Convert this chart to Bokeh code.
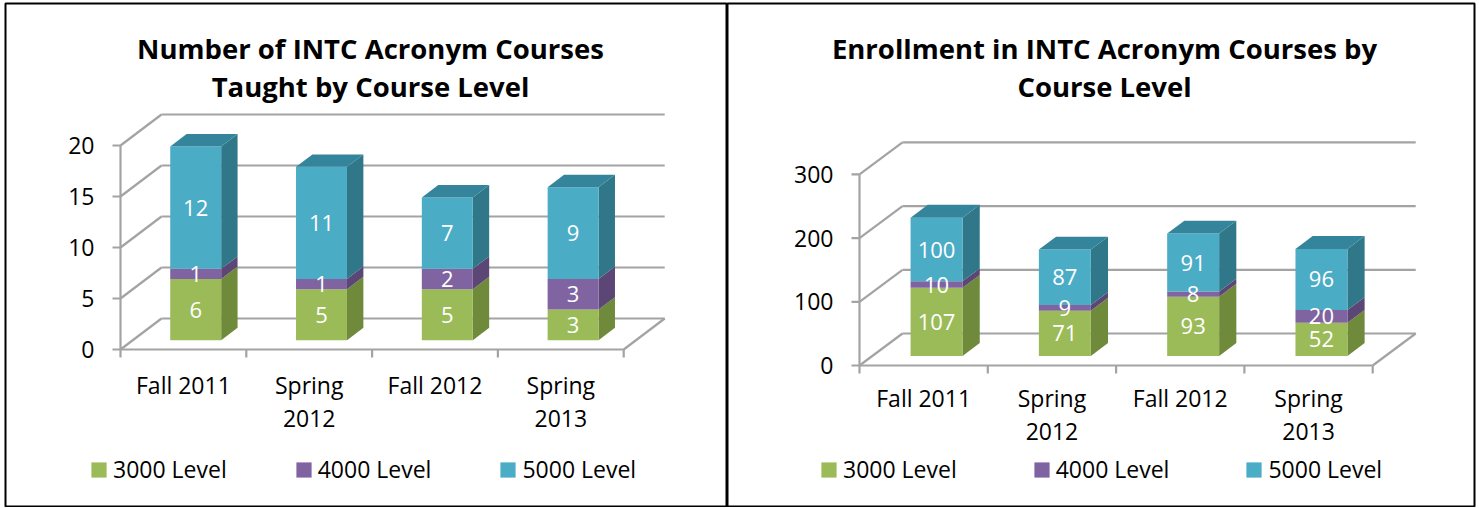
from bokeh.plotting import figure
from bokeh.models import Range1d, Legend, LegendItem
from bokeh.layouts import row
from bokeh.embed import file_html
from bokeh.resources import INLINE
from bokeh.core.properties import value

# ---------------- data ----------------
terms = ["Fall 2011", "Spring 2012", "Fall 2012", "Spring 2013"]
term_tick_labels = ["Fall 2011", "Spring\n2012", "Fall 2012", "Spring\n2013"]
series_names = ["3000 Level", "4000 Level", "5000 Level"]

courses_3000 = [6, 5, 5, 3]
courses_4000 = [1, 1, 2, 3]
courses_5000 = [12, 11, 7, 9]

enroll_3000 = [107, 71, 93, 52]
enroll_4000 = [10, 9, 8, 20]
enroll_5000 = [100, 87, 91, 96]

course_ticks = [0, 5, 10, 15, 20]
enroll_ticks = [0, 100, 200, 300]

title_courses = ["Number of INTC Acronym Courses", "Taught by Course Level"]
title_enroll = ["Enrollment in INTC Acronym Courses by", "Course Level"]

# ---------------- style ----------------
FRONT = ["#9BBB59", "#8064A2", "#4BACC6"]
SIDE = ["#6E8A3A", "#5B4676", "#307789"]
TOP_C = "#34859B"
GRID = "#A3A3A3"
FONT = "Open Sans"
H = 507


def make_panel(title_lines, stacks, ticks, page_left, fig_w, borders,
               axis_x, axis_y, cat_px, unit_px, dx_px, dy_px,
               title_cx, title_ys, xlab_top, legend_loc, legend_spacing):
    bl, br, bt, bb = borders
    n = len(terms)

    def X(px):
        return (px - axis_x) / cat_px

    def Y(py):
        return (axis_y - py) / unit_px

    f_left, f_right = page_left + bl, page_left + fig_w - br
    f_top, f_bottom = bt, H - bb
    p = figure(width=fig_w, height=H, output_backend="svg", toolbar_location=None,
               x_range=Range1d(X(f_left), X(f_right)), y_range=Range1d(Y(f_bottom), Y(f_top)),
               x_axis_location=None, y_axis_location=None,
               min_border_left=bl, min_border_right=br, min_border_top=bt, min_border_bottom=bb)
    p.grid.visible = False
    p.outline_line_color = "black"
    p.outline_line_width = 2
    p.background_fill_color = "white"
    p.border_fill_color = "white"

    DX = dx_px / cat_px
    DY = dy_px / unit_px
    ymax = ticks[-1]

    # walls / floor gridlines
    x0s, y0s, x1s, y1s = [], [], [], []
    for v in ticks:
        x0s += [0, DX]
        y0s += [v, v + DY]
        x1s += [DX, n + DX]
        y1s += [v + DY, v + DY]
    x0s.append(n); y0s.append(0); x1s.append(n + DX); y1s.append(DY)
    p.segment(x0s, y0s, x1s, y1s, line_color=GRID, line_width=2.2)

    # front axes: lines and ticks
    tick_x = X(axis_x - 8)
    tick_y = Y(axis_y + 8)
    ax0 = [0, 0] + [tick_x] * len(ticks) + list(range(n + 1))
    ay0 = [0, 0] + list(ticks) + [0] * (n + 1)
    ax1 = [0, n] + [0] * len(ticks) + list(range(n + 1))
    ay1 = [ymax, 0] + list(ticks) + [tick_y] * (n + 1)
    p.segment(ax0, ay0, ax1, ay1, line_color=GRID, line_width=2.2)

    # tick labels
    p.text(x=[X(axis_x - 26)] * len(ticks), y=ticks, text=[str(v) for v in ticks],
           text_align="right", text_baseline="middle", text_color="black",
           text_font=value(FONT), text_font_size="23px")
    p.text(x=[i + 0.5 for i in range(n)], y=[Y(xlab_top)] * n, text=term_tick_labels,
           text_align="center", text_baseline="top", text_color="black",
           text_font=value(FONT), text_font_size="23px", text_line_height=1.05)

    # 3-D stacked bars
    d0, d1 = 0.3, 0.7
    bw = 0.405
    fdx, fdy = d0 * DX, d0 * DY
    bdx, bdy = (d1 - d0) * DX, (d1 - d0) * DY
    xc = [i + 0.5 + fdx for i in range(n)]
    lefts = [x - bw / 2 for x in xc]
    rights = [x + bw / 2 for x in xc]
    bottoms = [0] * n
    items = []
    label_x, label_y, label_t = [], [], []
    for k, vals in enumerate(stacks):
        tops = [b + v for b, v in zip(bottoms, vals)]
        side_xs = [[r, r + bdx, r + bdx, r] for r in rights]
        side_ys = [[b + fdy, b + fdy + bdy, t + fdy + bdy, t + fdy] for b, t in zip(bottoms, tops)]
        p.patches(side_xs, side_ys, fill_color=SIDE[k], line_color=None)
        rr = p.vbar(x=xc, width=bw, bottom=[b + fdy for b in bottoms],
                    top=[t + fdy for t in tops], fill_color=FRONT[k], line_color=None)
        items.append(LegendItem(label=series_names[k], renderers=[rr]))
        for i in range(n):
            label_x.append(xc[i])
            label_y.append((bottoms[i] + tops[i]) / 2 + fdy)
            label_t.append(str(vals[i]))
        bottoms = tops
    top_xs = [[l, l + bdx, r + bdx, r] for l, r in zip(lefts, rights)]
    top_ys = [[t + fdy, t + fdy + bdy, t + fdy + bdy, t + fdy] for t in bottoms]
    p.patches(top_xs, top_ys, fill_color=TOP_C, line_color=None)

    p.text(x=label_x, y=label_y, text=label_t, text_align="center", text_baseline="middle",
           text_color="white", text_font=value(FONT), text_font_size="22px")

    # title (two centred lines)
    p.text(x=[X(title_cx)] * 2, y=[Y(title_ys[0]), Y(title_ys[1])], text=title_lines,
           text_align="center", text_baseline="middle", text_color="black",
           text_font=value(FONT), text_font_size="27.5px", text_font_style="bold")

    legend = Legend(items=items, orientation="horizontal", location=legend_loc,
                    glyph_width=19, glyph_height=19, label_standoff=5, spacing=legend_spacing,
                    padding=0, margin=0, border_line_color=None, background_fill_alpha=0,
                    label_text_font=FONT, label_text_font_size="23px", label_text_color="black")
    p.add_layout(legend)
    return p


p1 = make_panel(title_courses, [courses_3000, courses_4000, courses_5000], course_ticks,
                0, 727, (5, 0, 3, 1), 120, 349, 125.8, 10.2, 41, 31,
                370, (48, 86), 368, (84, 21), 67)
p2 = make_panel(title_enroll, [enroll_3000, enroll_4000, enroll_5000], enroll_ticks,
                727, 752, (0, 5, 3, 1), 859, 365, 128.3, 0.637, 43, 32,
                1104, (48, 86), 381, (92, 21), 75)

layout = row(p1, p2, spacing=0)
open("out.html", "w").write(file_html(layout, INLINE))
